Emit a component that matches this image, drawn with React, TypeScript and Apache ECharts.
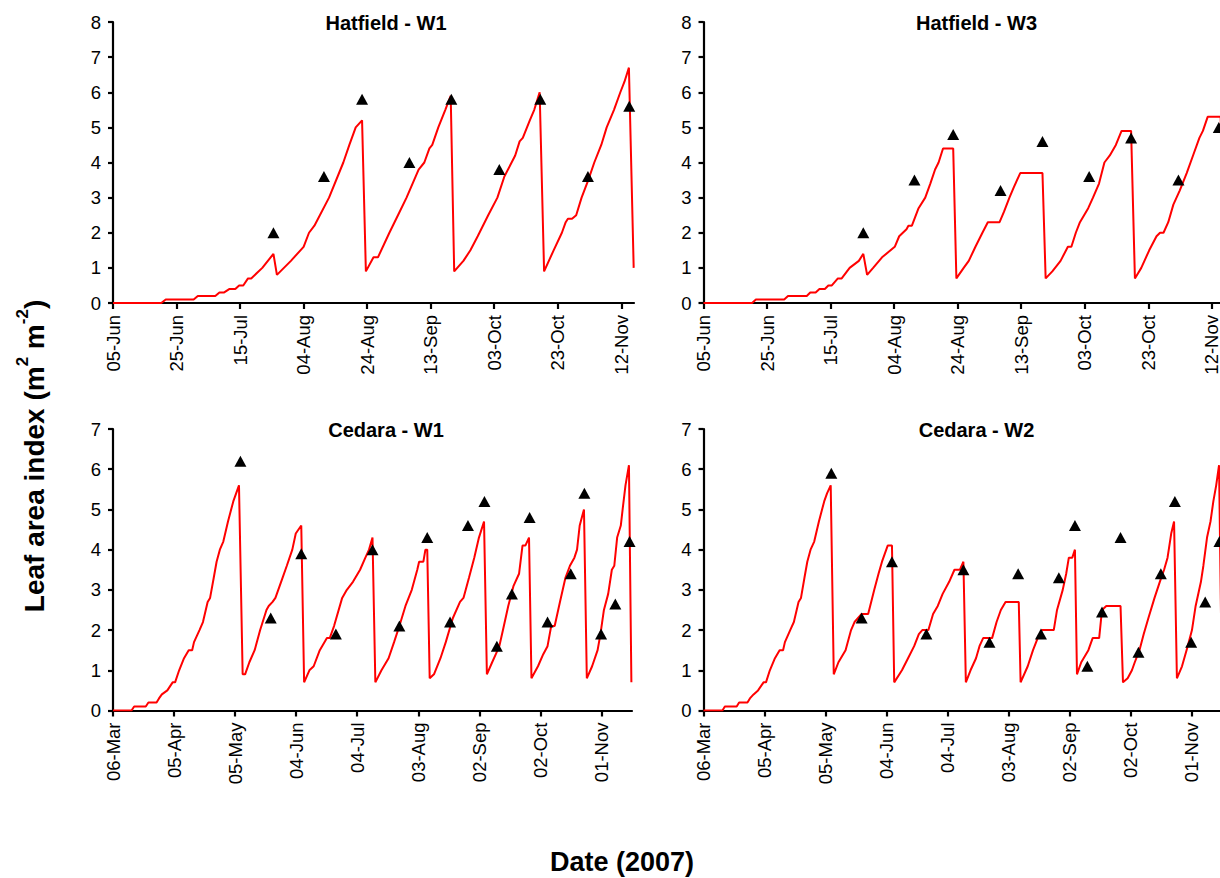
import React, { useEffect, useRef } from "react";
import * as echarts from "echarts";

const FONT = '"Liberation Sans", Arial, Helvetica, sans-serif';

// Tick labels
const hatfieldTickLabels = ["05-Jun", "25-Jun", "15-Jul", "04-Aug", "24-Aug", "13-Sep", "03-Oct", "23-Oct", "12-Nov"];
const cedaraTickLabels = ["06-Mar", "05-Apr", "05-May", "04-Jun", "04-Jul", "03-Aug", "02-Sep", "02-Oct", "01-Nov"];
const hatfieldDayStep = 20; // days between ticks (from 05-Jun)
const cedaraDayStep = 30; // days between ticks (from 06-Mar)
const hatfieldLastDay = 164; // 16-Nov
const cedaraLastDay = 255; // 16-Nov
const hatfieldLaiMax = 8;
const cedaraLaiMax = 7;

// Hatfield - W1 : [days since 05-Jun, LAI]
const hatfieldW1Simulated = [
  [0, 0], [15.2, 0], [16.6, 0.1], [25.4, 0.1], [26.7, 0.2], [32.2, 0.2], [33.5, 0.3], [35, 0.3], [36.7, 0.4], [38.5, 0.4],
  [39.7, 0.5], [41, 0.5], [42.5, 0.7], [43.5, 0.7], [47, 1.0], [50.5, 1.4], [51.6, 0.8], [56, 1.2], [60, 1.6], [61.7, 2.0],
  [63.4, 2.2], [68, 3.0], [72.5, 4.0], [74.4, 4.5], [76.4, 5.0], [78.4, 5.2], [79.6, 0.9], [82, 1.3], [83.4, 1.3], [87, 2.0],
  [89.7, 2.5], [92.4, 3.0], [96.2, 3.8], [98, 4.0], [99.6, 4.4], [100.5, 4.5], [102.4, 5.0], [104.6, 5.5], [106.3, 5.9],
  [107.4, 0.9], [110.3, 1.2], [112.5, 1.5], [114.8, 1.9], [118.1, 2.5], [121, 3.0], [123.2, 3.6], [126.6, 4.2], [128, 4.6],
  [129, 4.7], [131.2, 5.2], [132.6, 5.5], [134.3, 6.0], [135.7, 0.9], [138.7, 1.5], [141.3, 2.0], [142.5, 2.3], [143.2, 2.4],
  [144.5, 2.4], [145.8, 2.5], [147.5, 3.0], [149.6, 3.5], [151.5, 4.0], [153.7, 4.5], [155.4, 5.0], [157.7, 5.5], [159.7, 6.0],
  [161, 6.3], [162.4, 6.7], [163.9, 1.0],
];
const hatfieldW1Observed = [
  [50.5, 2.0], [66.4, 3.6], [78.4, 5.8], [93.3, 4.0], [106.5, 5.8], [121.6, 3.8], [134.5, 5.8], [149.5, 3.6], [162.5, 5.6],
];

// Hatfield - W3
const hatfieldW3Simulated = [
  [0, 0], [15.3, 0], [16.5, 0.1], [25.4, 0.1], [26.6, 0.2], [32.5, 0.2], [33.6, 0.3], [35.3, 0.3], [36.5, 0.4], [38.2, 0.4],
  [39.3, 0.5], [40.4, 0.5], [42.3, 0.7], [43.5, 0.7], [46, 1.0], [48.9, 1.2], [50.3, 1.4], [51.5, 0.8], [53.4, 1.0], [56.2, 1.3],
  [60.2, 1.6], [61.6, 1.9], [63.9, 2.1], [64.5, 2.2], [65.6, 2.2], [67.7, 2.7], [69.8, 3.0], [71.4, 3.4], [72.9, 3.8], [74, 4.0],
  [75.4, 4.4], [78.6, 4.4], [79.6, 0.7], [81.9, 1.0], [83.5, 1.2], [85.6, 1.6], [87.8, 2.0], [89.5, 2.3], [93.2, 2.3], [94.6, 2.6],
  [96.3, 3.0], [97.7, 3.3], [99.7, 3.7], [106.7, 3.7], [107.7, 0.7], [109.8, 0.9], [112.4, 1.2], [114.7, 1.6], [115.8, 1.6],
  [117.2, 2.0], [118.5, 2.3], [121.1, 2.7], [122.6, 3.0], [124.5, 3.4], [126.2, 4.0], [127.9, 4.2], [129.8, 4.5], [131.6, 4.9],
  [134.6, 4.9], [135.8, 0.7], [137.8, 1.0], [140.3, 1.5], [142.6, 1.9], [143.7, 2.0], [144.8, 2.0], [146.3, 2.3], [147.9, 2.8],
  [149.9, 3.2], [152.1, 3.7], [154.1, 4.2], [156.1, 4.7], [157.2, 4.9], [158.7, 5.3], [162.8, 5.3], [163.6, 0.9],
];
const hatfieldW3Observed = [
  [50.3, 2.0], [66.4, 3.5], [78.6, 4.8], [93.5, 3.2], [106.7, 4.6], [121.4, 3.6], [134.6, 4.7], [149.5, 3.5], [162.2, 5.0],
];

// Cedara - W1 : [days since 06-Mar, LAI]
const cedaraW1Simulated = [
  [0, 0], [9.1, 0], [10.4, 0.1], [16.1, 0.1], [17.4, 0.2], [21.4, 0.2], [22.6, 0.3], [24, 0.4], [26.7, 0.5], [29.3, 0.7],
  [30.5, 0.7], [32.5, 1.0], [34.9, 1.3], [37.2, 1.5], [38.9, 1.5], [39.8, 1.7], [42.5, 2.0], [44.2, 2.2], [46.5, 2.7],
  [47.7, 2.8], [49.5, 3.3], [50.9, 3.7], [52.5, 4.0], [54.2, 4.2], [56.5, 4.7], [59.1, 5.2], [60.5, 5.4], [61.9, 5.6],
  [63.7, 0.9], [64.9, 0.9], [67, 1.2], [69.6, 1.5], [72.3, 2.0], [75.4, 2.5], [76.5, 2.6], [78.4, 2.7], [79.8, 2.8],
  [83.3, 3.3], [85.4, 3.6], [88.1, 4.0], [89.8, 4.4], [92.5, 4.6], [93.9, 0.7], [96.5, 1.0], [98.6, 1.1], [101.6, 1.5],
  [105.1, 1.8], [106.5, 1.8], [108.6, 2.1], [112.6, 2.8], [114.9, 3.0], [117.9, 3.2], [121.4, 3.5], [124, 3.8], [125.8, 4.0],
  [127.5, 4.3], [128.9, 0.7], [131.9, 1.0], [135.4, 1.3], [138.1, 1.7], [140.7, 2.1], [143.7, 2.6], [146.8, 3.0], [149.5, 3.5],
  [150.4, 3.7], [152.5, 3.7], [153.5, 4.0], [154.4, 4.0], [155.6, 0.8], [157.7, 0.9], [160.9, 1.3], [163.5, 1.7], [167, 2.3],
  [170.5, 2.7], [172.2, 2.8], [174.9, 3.3], [177.5, 3.8], [179.8, 4.3], [182.3, 4.7], [183.7, 0.9], [186.3, 1.2], [188.1, 1.4],
  [189.8, 1.6], [191.6, 2.0], [194.2, 2.6], [196.8, 3.1], [199.5, 3.4], [201.2, 4.1], [202.6, 4.1], [204.4, 4.3], [205.6, 0.8],
  [208.8, 1.1], [211.4, 1.4], [213.5, 1.6], [215.3, 2.1], [217, 2.1], [219.6, 2.7], [222.3, 3.3], [224.5, 3.6], [226.7, 3.8],
  [228, 4.0], [229.3, 4.6], [231.4, 5.0], [232.8, 0.8], [235.4, 1.1], [238.1, 1.5], [239.5, 1.9], [241.2, 2.5], [243.3, 2.9],
  [245.1, 3.5], [246.3, 3.6], [247.7, 4.3], [249.5, 4.6], [250.4, 5.0], [251.8, 5.6], [253.5, 6.1], [254.7, 0.7],
];
const cedaraW1Observed = [
  [62.6, 6.2], [77.5, 2.3], [92.5, 3.9], [109.5, 1.9], [127.5, 4.0], [140.7, 2.1], [154.4, 4.3], [165.6, 2.2], [174.4, 4.6],
  [182.5, 5.2], [188.6, 1.6], [196.0, 2.9], [204.7, 4.8], [213.5, 2.2], [224.9, 3.4], [231.6, 5.4], [239.8, 1.9], [246.8, 2.65],
  [253.8, 4.2],
];

// Cedara - W2
const cedaraW2Simulated = [
  [0, 0], [9.3, 0], [10.5, 0.1], [16.3, 0.1], [17.5, 0.2], [21.6, 0.2], [22.8, 0.3], [24.6, 0.4], [26.8, 0.5], [29.5, 0.7],
  [30.7, 0.7], [32.6, 1.0], [35.1, 1.3], [37.4, 1.5], [39.1, 1.5], [40, 1.7], [42.6, 2.0], [44.4, 2.2], [46.7, 2.7], [47.9, 2.8],
  [49.6, 3.3], [51, 3.7], [52.6, 4.0], [54.4, 4.2], [56.7, 4.7], [59.3, 5.2], [60.7, 5.4], [62.5, 5.6], [64, 0.9], [66.3, 1.2],
  [69.8, 1.5], [72.5, 2.0], [74.2, 2.2], [77.7, 2.4], [80.9, 2.4], [83.9, 3.0], [86, 3.4], [87.7, 3.7], [90.5, 4.1], [92.6, 4.1],
  [93.7, 0.7], [97.5, 1.0], [100.5, 1.3], [103.5, 1.6], [105.8, 1.9], [107.5, 2.0], [110.5, 2.0], [112.8, 2.4], [115.1, 2.6],
  [117.5, 2.9], [120.7, 3.2], [123.3, 3.5], [126, 3.5], [127.7, 3.7], [128.9, 0.7], [131.2, 1.0], [133.9, 1.3], [135.6, 1.6],
  [137.4, 1.8], [141.8, 1.8], [144, 2.2], [146.1, 2.5], [148.4, 2.7], [154.9, 2.7], [155.8, 0.7], [159.3, 1.1], [161.9, 1.5],
  [164.2, 1.8], [166.3, 2.0], [172.1, 2.0], [173.7, 2.5], [176.5, 3.0], [178.2, 3.4], [179.5, 3.8], [181.2, 3.8], [182.5, 4.0],
  [183.5, 0.9], [185.6, 1.2], [189.1, 1.5], [191.2, 1.8], [194.4, 1.8], [195.8, 2.5], [197.9, 2.6], [204.9, 2.6], [206.1, 0.7],
  [208.4, 0.8], [210.5, 1.0], [211.9, 1.2], [214.2, 1.5], [216.3, 1.9], [218.6, 2.3], [221.6, 2.8], [224.2, 3.2], [226.3, 3.5],
  [228, 3.8], [229.8, 4.4], [231.2, 4.7], [232.6, 0.8], [235.1, 1.1], [237.9, 1.6], [240, 2.0], [241.8, 2.6], [244.4, 3.2],
  [245.6, 3.6], [247.4, 4.3], [249.1, 4.7], [250.5, 5.2], [251.9, 5.6], [253.3, 6.1], [254.7, 0.7],
];
const cedaraW2Observed = [
  [62.8, 5.9], [77.7, 2.3], [92.6, 3.7], [109.5, 1.9], [127.7, 3.5], [140.5, 1.7], [154.6, 3.4], [165.8, 1.9], [174.6, 3.3],
  [182.5, 4.6], [188.6, 1.1], [195.8, 2.45], [204.9, 4.3], [213.7, 1.45], [224.7, 3.4], [231.6, 5.2], [239.6, 1.7], [246.5, 2.7],
  [253.5, 4.2],
];

const panelTitles = ["Hatfield - W1", "Hatfield - W3", "Cedara - W1", "Cedara - W2"];

export default function App() {
  const ref = useRef<HTMLDivElement>(null);

  useEffect(() => {
    if (!ref.current) return;
    const chart = echarts.init(ref.current, undefined, { renderer: "svg" });

    const PW_TOP = 521;
    const PW_BOT = 519;
    const panels = [
      { title: panelTitles[0], sim: hatfieldW1Simulated, obs: hatfieldW1Observed, left: 113, top: 22, width: PW_TOP, height: 281, xMax: hatfieldLastDay, step: hatfieldDayStep, labels: hatfieldTickLabels, yMax: hatfieldLaiMax },
      { title: panelTitles[1], sim: hatfieldW3Simulated, obs: hatfieldW3Observed, left: 703.5, top: 22, width: PW_TOP, height: 281, xMax: hatfieldLastDay, step: hatfieldDayStep, labels: hatfieldTickLabels, yMax: hatfieldLaiMax },
      { title: panelTitles[2], sim: cedaraW1Simulated, obs: cedaraW1Observed, left: 113, top: 429, width: PW_BOT, height: 281.5, xMax: cedaraLastDay, step: cedaraDayStep, labels: cedaraTickLabels, yMax: cedaraLaiMax },
      { title: panelTitles[3], sim: cedaraW2Simulated, obs: cedaraW2Observed, left: 703.5, top: 429, width: PW_BOT, height: 281.5, xMax: cedaraLastDay, step: cedaraDayStep, labels: cedaraTickLabels, yMax: cedaraLaiMax },
    ];

    const axisLineStyle = { color: "#000", width: 2.2 };

    const option: any = {
      animation: false,
      backgroundColor: "#fff",
      grid: panels.map((p) => ({
        left: p.left,
        top: p.top,
        width: p.width,
        height: p.height,
        containLabel: false,
        outerBoundsMode: "none",
      })),
      xAxis: panels.map((p, i) => {
        const tickVals = p.labels.map((_, k) => k * p.step);
        return {
          type: "value",
          gridIndex: i,
          min: 0,
          max: p.xMax,
          interval: p.step,
          axisLine: { show: true, onZero: false, lineStyle: axisLineStyle },
          axisTick: { show: true, length: 6, inside: false, customValues: tickVals, lineStyle: axisLineStyle },
          axisLabel: {
            show: true,
            customValues: tickVals,
            rotate: 90,
            margin: 12,
            color: "#000",
            fontSize: 18.5,
            fontFamily: FONT,
            formatter: (v: number) => p.labels[Math.round(v / p.step)] ?? "",
          },
          splitLine: { show: false },
        };
      }),
      yAxis: panels.map((p, i) => ({
        type: "value",
        gridIndex: i,
        min: 0,
        max: p.yMax,
        interval: 1,
        axisLine: { show: true, lineStyle: axisLineStyle },
        axisTick: { show: true, length: 5, inside: false, lineStyle: axisLineStyle },
        axisLabel: { show: true, margin: 12, color: "#000", fontSize: 18.5, fontFamily: FONT },
        splitLine: { show: false },
      })),
      series: panels.flatMap((p, i) => [
        {
          type: "line",
          xAxisIndex: i,
          yAxisIndex: i,
          data: p.sim,
          symbol: "none",
          showSymbol: false,
          lineStyle: { color: "#ff0000", width: 2 },
          z: 2,
          silent: true,
        },
        {
          type: "scatter",
          xAxisIndex: i,
          yAxisIndex: i,
          data: p.obs,
          symbol: "triangle",
          symbolSize: [12, 11],
          itemStyle: { color: "#000", opacity: 1 },
          z: 3,
          silent: true,
        },
      ]),
      graphic: [
        ...panels.map((p) => ({
          type: "text",
          x: p.left + 273,
          y: p.top + 1,
          style: {
            text: p.title,
            fontSize: 20,
            fontWeight: "bold",
            fontFamily: FONT,
            fill: "#000",
            align: "center",
            verticalAlign: "middle",
          },
        })),
        {
          type: "text",
          x: 31,
          y: 456,
          rotation: Math.PI / 2,
          style: {
            text: "{t|Leaf area index (m}{s|2}{t| m}{s|-2}{t|)}",
            align: "center",
            verticalAlign: "middle",
            rich: {
              t: { fontSize: 28, fontWeight: "bold", fontFamily: FONT, fill: "#000", lineHeight: 34, verticalAlign: "bottom" },
              s: { fontSize: 17, fontWeight: "bold", fontFamily: FONT, fill: "#000", lineHeight: 34, verticalAlign: "top" },
            },
          },
        },
        {
          type: "text",
          x: 622,
          y: 862,
          style: {
            text: "Date (2007)",
            fontSize: 27,
            fontWeight: "bold",
            fontFamily: FONT,
            fill: "#000",
            align: "center",
            verticalAlign: "middle",
          },
        },
      ],
    };

    chart.setOption(option);
    return () => chart.dispose();
  }, []);

  return (
    <div
      style={{ position: "fixed", left: 0, top: 0, width: 1220, height: 878, overflow: "hidden", background: "#fff" }}
    >
      <div ref={ref} style={{ width: 1220, height: 878 }} />
    </div>
  );
}
